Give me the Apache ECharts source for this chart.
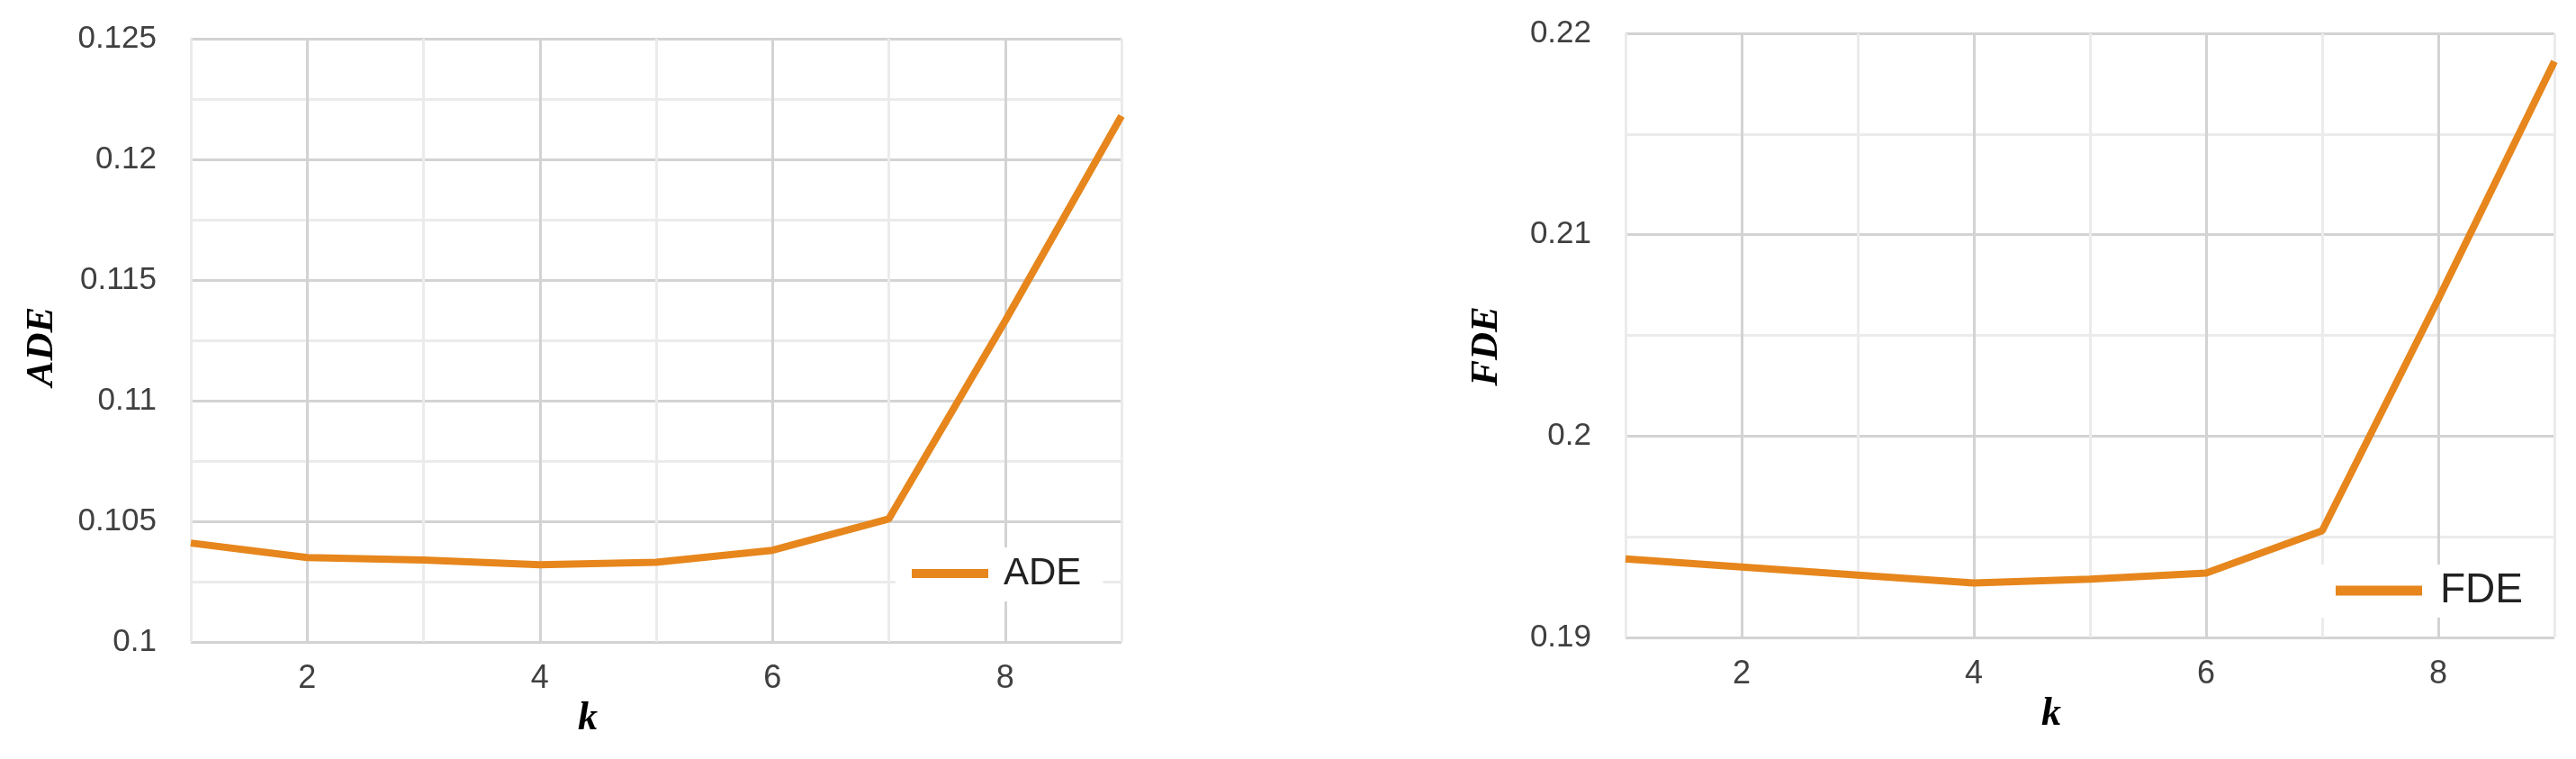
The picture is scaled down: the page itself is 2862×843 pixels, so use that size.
<!DOCTYPE html>
<html>
<head>
<meta charset="utf-8">
<title>ADE / FDE vs k</title>
<script src="https://cdn.jsdelivr.net/npm/echarts@6/dist/echarts.min.js"></script>
<style>
    html,body{margin:0;padding:0;background:#fff;}
    #chart{width:2862px;height:843px;}
</style>
</head>
<body>
<div id="chart"></div>
<script>
// k values and measured errors
var kValues=[1,2,3,4,5,6,7,8,9];
var adeValues=[0.1041,0.1035,0.1034,0.1032,0.1033,0.1038,0.1051,0.1133,0.1218];
var fdeValues=[0.1939,0.1935,0.1931,0.1927,0.1929,0.1932,0.1953,0.2068,0.2186];
// y ranges: [min, max, minor step, labelled step]
var adeRange=[0.1,0.125,0.0025,0.005];
var fdeRange=[0.19,0.22,0.005,0.01];

var lineColor='#E6861C';
var majorGrid='#d3d3d3';
var minorGrid='#ebebeb';

function toPairs(xs,ys){
    var arr=[];
    for(var i=0;i<xs.length;i++){
        arr.push([xs[i],ys[i]]);
    }
    return arr;
}

function buildXAxis(gridIndex,namePadRight){
    return {
        type:'value',
        gridIndex:gridIndex,
        min:kValues[0],
        max:kValues[kValues.length-1],
        interval:1,
        name:'k',
        nameLocation:'middle',
        nameGap:55,
        nameTextStyle:{
            fontFamily:'Liberation Serif',
            fontStyle:'italic',
            fontWeight:'bold',
            fontSize:44,
            color:'#000',
            padding:[0,namePadRight,0,0]
        },
        axisLine:{show:false},
        axisTick:{show:false},
        axisLabel:{
            margin:23,
            fontFamily:'Liberation Sans',
            fontSize:36,
            color:'#404040',
            formatter:function(v){ return v%2===0 ? String(v) : ''; }
        },
        splitLine:{
            show:true,
            showMinLine:true,
            showMaxLine:true,
            // odd k lighter, even k darker
            lineStyle:{color:[minorGrid,majorGrid],width:3}
        }
    };
}

function buildYAxis(gridIndex,range,name,nameGap,namePadRight){
    var ratio=Math.round(range[3]/range[2]);
    return {
        type:'value',
        gridIndex:gridIndex,
        min:range[0],
        max:range[1],
        interval:range[2],
        name:name,
        nameLocation:'middle',
        nameGap:nameGap,
        nameTextStyle:{
            fontFamily:'Liberation Serif',
            fontStyle:'italic',
            fontWeight:'bold',
            fontSize:43,
            color:'#000',
            padding:[0,namePadRight,0,0]
        },
        axisLine:{show:false},
        axisTick:{show:false},
        axisLabel:{
            margin:38,
            fontFamily:'Liberation Sans',
            fontSize:35,
            color:'#404040',
            formatter:function(v){
                var n=Math.round((v-range[0])/range[2]);
                if(n%ratio!==0){ return ''; }
                return String(parseFloat(v.toFixed(4)));
            }
        },
        splitLine:{
            show:true,
            showMinLine:true,
            showMaxLine:true,
            lineStyle:{color:[majorGrid,minorGrid],width:3}
        }
    };
}

function buildSeries(name,gridIndex,values){
    return {
        name:name,
        type:'line',
        xAxisIndex:gridIndex,
        yAxisIndex:gridIndex,
        data:toPairs(kValues,values),
        showSymbol:false,
        symbol:'none',
        silent:true,
        lineStyle:{color:lineColor,width:8},
        itemStyle:{color:lineColor}
    };
}

var chart=echarts.init(document.getElementById('chart'),null,{renderer:'canvas'});
var option={
    backgroundColor:'#fff',
    animation:false,
    grid:[
        {left:212,top:43,width:1034,height:670,outerBoundsMode:'none'},
        {left:1806,top:37,width:1032,height:671,outerBoundsMode:'none'}
    ],
    xAxis:[buildXAxis(0,152),buildXAxis(1,86)],
    yAxis:[
        buildYAxis(0,adeRange,'ADE',144,14),
        buildYAxis(1,fdeRange,'FDE',133,24)
    ],
    legend:[
        {
            data:['ADE'],
            left:995,
            top:608,
            icon:'rect',
            itemWidth:85,
            itemHeight:10,
            backgroundColor:'#fff',
            padding:[8,24,10,18],
            textStyle:{fontFamily:'Liberation Sans',fontSize:42,color:'#222',padding:[0,0,0,12]}
        },
        {
            data:['FDE'],
            left:2570,
            top:627,
            icon:'rect',
            itemWidth:96,
            itemHeight:11,
            backgroundColor:'#fff',
            padding:[6,27,7,25],
            textStyle:{fontFamily:'Liberation Sans',fontSize:46,color:'#222',padding:[0,0,0,15]}
        }
    ],
    series:[
        buildSeries('ADE',0,adeValues),
        buildSeries('FDE',1,fdeValues)
    ]
};
chart.setOption(option);
</script>
</body>
</html>
